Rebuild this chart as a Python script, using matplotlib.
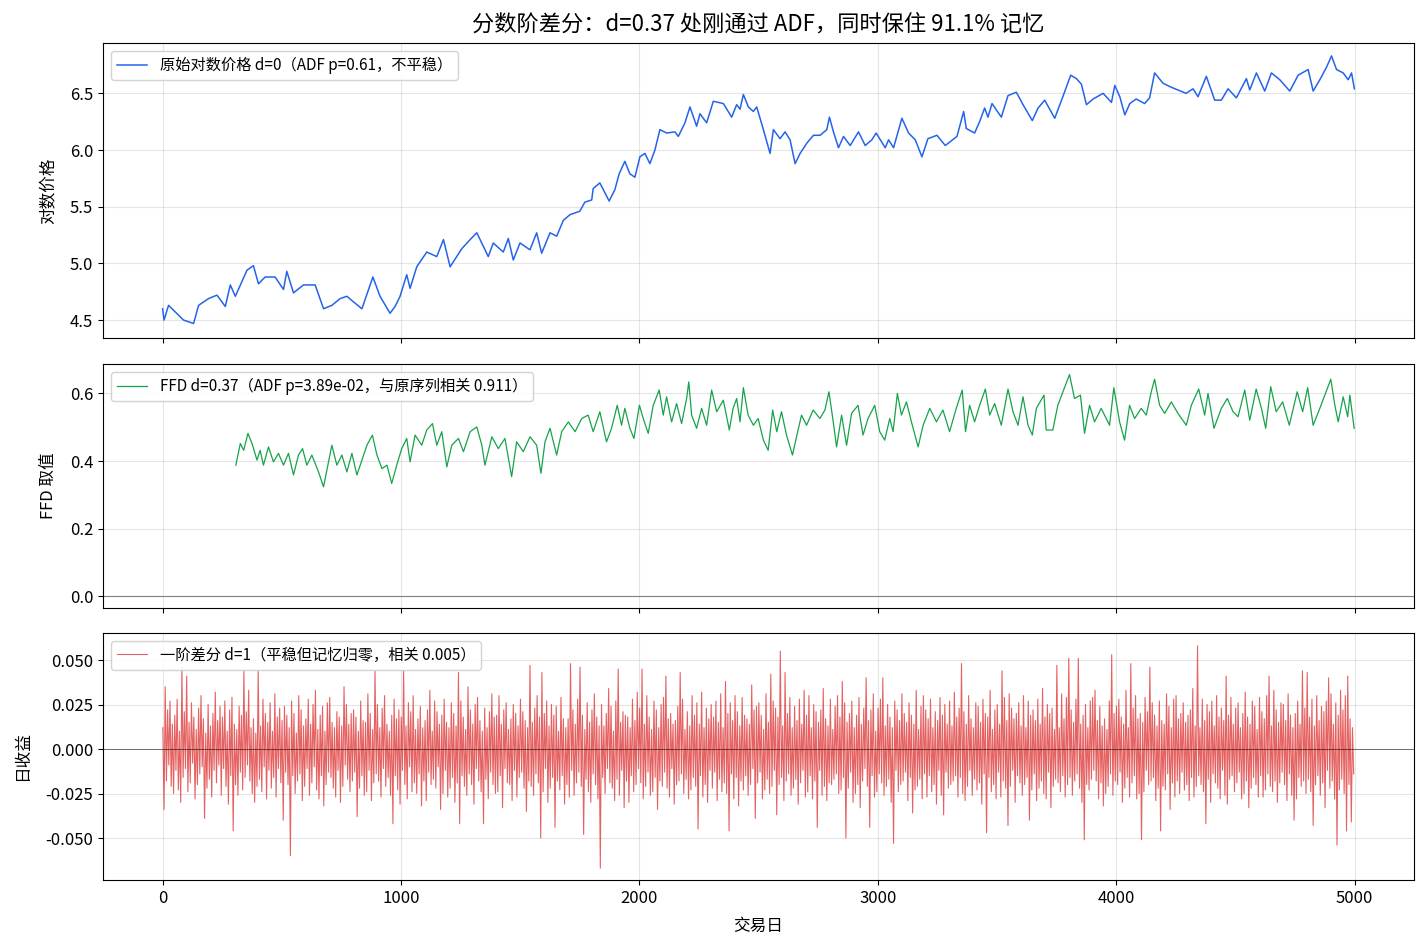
import numpy as np
import matplotlib
matplotlib.use("Agg")
import matplotlib.pyplot as plt

plt.rcParams['font.family'] = ['Noto Sans CJK SC', 'DejaVu Sans']
plt.rcParams['axes.unicode_minus'] = False

# ---------------- data ----------------
title = "分数阶差分：d=0.37 处刚通过 ADF，同时保住 91.1% 记忆"
label_price = "原始对数价格 d=0（ADF p=0.61，不平稳）"
label_ffd = "FFD d=0.37（ADF p=3.89e-02，与原序列相关 0.911）"
label_ret = "一阶差分 d=1（平稳但记忆归零，相关 0.005）"

price_days = [0, 6, 25, 88, 130, 151, 193, 228, 263, 284, 305, 354, 381, 402, 430, 472, 507, 521, 549, 591,
              640, 675, 710, 745, 773, 801, 836, 882, 912, 954, 975, 996, 1024, 1038, 1066, 1108, 1150, 1178,
              1206, 1255, 1290, 1318, 1366, 1387, 1429, 1450, 1471, 1499, 1541, 1569, 1590, 1625, 1653, 1681,
              1709, 1750, 1771, 1800, 1806, 1834, 1873, 1897, 1915, 1939, 1960, 1981, 2002, 2023, 2044, 2065,
              2086, 2114, 2149, 2163, 2191, 2212, 2240, 2254, 2282, 2310, 2352, 2387, 2408, 2422, 2436, 2457,
              2478, 2492, 2520, 2548, 2562, 2590, 2611, 2632, 2653, 2674, 2702, 2730, 2758, 2786, 2797, 2814,
              2835, 2856, 2884, 2919, 2947, 2975, 2993, 3031, 3045, 3066, 3101, 3129, 3157, 3185, 3210, 3248,
              3283, 3332, 3360, 3371, 3406, 3427, 3448, 3462, 3479, 3518, 3546, 3581, 3609, 3648, 3672, 3700,
              3742, 3776, 3809, 3833, 3854, 3875, 3903, 3945, 3980, 3994, 4015, 4036, 4057, 4084, 4119, 4140,
              4161, 4196, 4224, 4259, 4293, 4322, 4343, 4378, 4413, 4441, 4469, 4504, 4546, 4560, 4588, 4623,
              4651, 4686, 4728, 4763, 4805, 4826, 4854, 4882, 4903, 4924, 4952, 4973, 4987, 4999]
price_vals = [4.60, 4.50, 4.63, 4.50, 4.47, 4.63, 4.69, 4.72, 4.62, 4.81, 4.71, 4.94, 4.98, 4.82, 4.88, 4.88,
              4.77, 4.93, 4.74, 4.81, 4.81, 4.60, 4.63, 4.69, 4.71, 4.66, 4.60, 4.88, 4.71, 4.56, 4.62, 4.71,
              4.90, 4.78, 4.97, 5.10, 5.06, 5.21, 4.97, 5.13, 5.21, 5.27, 5.06, 5.18, 5.10, 5.22, 5.03, 5.18,
              5.12, 5.27, 5.09, 5.27, 5.24, 5.38, 5.43, 5.46, 5.54, 5.56, 5.66, 5.71, 5.55, 5.65, 5.79, 5.90,
              5.79, 5.76, 5.94, 5.97, 5.88, 6.00, 6.18, 6.15, 6.16, 6.12, 6.24, 6.38, 6.21, 6.32, 6.24, 6.43,
              6.41, 6.29, 6.40, 6.36, 6.49, 6.38, 6.34, 6.38, 6.18, 5.97, 6.18, 6.10, 6.16, 6.09, 5.88, 5.97,
              6.06, 6.13, 6.13, 6.18, 6.29, 6.16, 6.02, 6.12, 6.04, 6.16, 6.04, 6.09, 6.15, 6.02, 6.09, 6.02,
              6.28, 6.15, 6.09, 5.94, 6.10, 6.13, 6.04, 6.12, 6.34, 6.19, 6.15, 6.25, 6.37, 6.29, 6.41, 6.29,
              6.48, 6.51, 6.40, 6.26, 6.37, 6.44, 6.28, 6.47, 6.66, 6.63, 6.58, 6.40, 6.45, 6.50, 6.42, 6.57,
              6.47, 6.31, 6.41, 6.45, 6.41, 6.46, 6.68, 6.59, 6.56, 6.53, 6.50, 6.54, 6.47, 6.65, 6.44, 6.44,
              6.54, 6.46, 6.63, 6.53, 6.68, 6.52, 6.68, 6.62, 6.52, 6.66, 6.71, 6.52, 6.62, 6.73, 6.83, 6.71,
              6.68, 6.62, 6.68, 6.54]

ffd_days = [307, 326, 340, 358, 375, 396, 409, 423, 444, 465, 486, 507, 528, 549, 570, 587, 605, 626, 654, 675,
            696, 710, 731, 752, 773, 794, 815, 836, 857, 880, 899, 920, 941, 961, 982, 1003, 1024, 1038, 1059,
            1087, 1108, 1132, 1150, 1171, 1192, 1213, 1241, 1262, 1290, 1318, 1339, 1352, 1381, 1408, 1436,
            1464, 1485, 1513, 1541, 1569, 1587, 1604, 1625, 1653, 1674, 1702, 1730, 1758, 1785, 1806, 1834,
            1862, 1883, 1907, 1925, 1939, 1960, 1977, 2000, 2016, 2037, 2058, 2083, 2100, 2114, 2135, 2156,
            2177, 2198, 2207, 2219, 2240, 2261, 2282, 2303, 2324, 2352, 2377, 2393, 2408, 2422, 2436, 2456,
            2478, 2498, 2520, 2540, 2559, 2576, 2596, 2617, 2642, 2659, 2680, 2701, 2729, 2757, 2778, 2795,
            2813, 2827, 2848, 2869, 2890, 2917, 2938, 2959, 2987, 3008, 3029, 3050, 3064, 3082, 3099, 3120,
            3141, 3169, 3190, 3218, 3246, 3273, 3301, 3329, 3354, 3368, 3385, 3406, 3427, 3451, 3469, 3490,
            3518, 3546, 3567, 3588, 3609, 3630, 3648, 3665, 3697, 3706, 3734, 3755, 3783, 3804, 3825, 3850,
            3867, 3888, 3909, 3937, 3972, 3990, 4014, 4035, 4056, 4077, 4105, 4126, 4147, 4161, 4182, 4203,
            4231, 4259, 4294, 4315, 4346, 4371, 4385, 4410, 4441, 4466, 4490, 4511, 4539, 4560, 4587, 4609,
            4627, 4648, 4671, 4698, 4726, 4759, 4782, 4803, 4826, 4854, 4875, 4900, 4917, 4931, 4952, 4971,
            4980, 4990, 4998]
ffd_vals = [0.388, 0.452, 0.432, 0.482, 0.452, 0.403, 0.432, 0.388, 0.442, 0.398, 0.423, 0.388, 0.423, 0.359,
            0.418, 0.437, 0.388, 0.418, 0.368, 0.324, 0.398, 0.447, 0.388, 0.418, 0.368, 0.423, 0.359, 0.403,
            0.447, 0.477, 0.418, 0.378, 0.388, 0.334, 0.388, 0.437, 0.467, 0.398, 0.477, 0.447, 0.492, 0.511,
            0.447, 0.487, 0.383, 0.447, 0.467, 0.428, 0.487, 0.501, 0.447, 0.388, 0.472, 0.437, 0.467, 0.354,
            0.457, 0.428, 0.472, 0.447, 0.364, 0.457, 0.497, 0.418, 0.487, 0.516, 0.487, 0.526, 0.536, 0.487,
            0.546, 0.457, 0.497, 0.565, 0.506, 0.556, 0.497, 0.467, 0.565, 0.526, 0.482, 0.565, 0.610, 0.536,
            0.590, 0.516, 0.570, 0.511, 0.585, 0.634, 0.536, 0.497, 0.556, 0.506, 0.610, 0.546, 0.580, 0.492,
            0.556, 0.585, 0.516, 0.617, 0.536, 0.506, 0.526, 0.462, 0.432, 0.551, 0.487, 0.546, 0.477, 0.418,
            0.472, 0.536, 0.506, 0.551, 0.526, 0.551, 0.605, 0.516, 0.442, 0.536, 0.447, 0.541, 0.565, 0.477,
            0.526, 0.565, 0.487, 0.462, 0.526, 0.487, 0.600, 0.536, 0.575, 0.516, 0.442, 0.506, 0.556, 0.516,
            0.551, 0.487, 0.556, 0.610, 0.487, 0.565, 0.516, 0.565, 0.613, 0.536, 0.570, 0.506, 0.613, 0.546,
            0.506, 0.590, 0.506, 0.477, 0.556, 0.595, 0.492, 0.492, 0.565, 0.617, 0.656, 0.585, 0.595, 0.482,
            0.565, 0.516, 0.556, 0.506, 0.617, 0.516, 0.462, 0.565, 0.526, 0.556, 0.536, 0.605, 0.642, 0.565,
            0.541, 0.575, 0.541, 0.506, 0.565, 0.613, 0.536, 0.600, 0.497, 0.556, 0.585, 0.546, 0.531, 0.610,
            0.521, 0.613, 0.556, 0.497, 0.620, 0.546, 0.575, 0.506, 0.605, 0.546, 0.617, 0.506, 0.556, 0.595,
            0.642, 0.565, 0.516, 0.590, 0.531, 0.595, 0.541, 0.497]

# daily returns (x1000), one reading every 5 trading days, estimated from the chart
ret_start, ret_step = 1, 5
ret_milli = [
    12, -34, 35, -18, 22, -9, 27, -21, 14, -25,
    19, -12, 28, -23, 10, -30, 46, -16, 21, -11,
    41, -24, 15, -19, 26, -8, 18, -28, 11, -20,
    23, -14, 30, -10, 17, -39, 9, -22, 25, -17,
    13, -27, 20, -12, 32, -19, 16, -9, 24, -26,
    18, -11, 27, -21, 10, -31, 22, -15, 29, -46,
    14, -20, 11, -26, 24, -13, 19, -23, 45, -16,
    21, -9, 33, -18, 12, -25, 17, -30, 9, -21,
    44, -17, 13, -24, 28, -10, 20, -28, 15, -12,
    26, -22, 10, -16, 31, -27, 18, -11, 23, -19,
    16, -40, 24, -13, 19, -20, 12, -60, 27, -15,
    20, -25, 9, -18, 30, -14, 22, -29, 13, -21,
    17, -11, 28, -26, 14, -19, 25, -10, 33, -23,
    11, -28, 19, -15, 24, -32, 10, -20, 26, -13,
    29, -16, 15, -22, 12, -27, 21, -12, 18, -30,
    13, -21, 35, -9, 25, -17, 14, -24, 20, -18,
    22, -13, 18, -38, 10, -22, 27, -15, 16, -26,
    15, -24, 31, -12, 20, -29, 11, -19, 44, -14,
    25, -18, 12, -27, 23, -11, 30, -21, 14, -16,
    10, -26, 19, -42, 28, -15, 17, -23, 22, -31,
    18, -12, 44, -20, 13, -28, 26, -10, 21, -24,
    30, -19, 11, -25, 17, -14, 24, -32, 12, -18,
    16, -29, 22, -13, 33, -20, 10, -17, 27, -22,
    21, -10, 14, -34, 19, -25, 28, -12, 15, -27,
    12, -22, 26, -16, 20, -30, 13, -19, 43, -42,
    27, -15, 18, -21, 11, -26, 35, -14, 22, -20,
    14, -31, 25, -11, 29, -18, 16, -24, 10, -42,
    23, -17, 12, -28, 21, -13, 31, -20, 18, -25,
    19, -24, 30, -15, 14, -33, 22, -11, 26, -19,
    11, -20, 17, -29, 25, -12, 20, -27, 13, -16,
    28, -13, 21, -22, 16, -35, 12, -18, 47, -21,
    15, -26, 23, -14, 30, -19, 18, -50, 43, -24,
    20, -11, 27, -30, 13, -22, 25, -16, 19, -44,
    24, -18, 10, -23, 29, -15, 17, -31, 12, -20,
    17, -27, 48, -12, 22, -26, 14, -19, 28, -13,
    46, -21, 19, -48, 11, -17, 26, -24, 15, -30,
    22, -14, 31, -20, 18, -28, 13, -67, 25, -16,
    13, -25, 20, -11, 34, -19, 24, -22, 10, -29,
    27, -17, 45, -26, 15, -12, 21, -33, 19, -18,
    18, -30, 12, -15, 28, -24, 16, -20, 32, -11,
    23, -19, 45, -28, 14, -21, 30, -13, 18, -26,
    11, -24, 27, -16, 22, -34, 12, -18, 25, -21,
    29, -13, 41, -22, 17, -27, 20, -11, 14, -31,
    16, -20, 24, -18, 43, -14, 28, -25, 11, -17,
    21, -28, 13, -23, 30, -16, 19, -21, 26, -45,
    14, -15, 32, -27, 12, -20, 23, -30, 17, -12,
    25, -22, 18, -13, 27, -29, 15, -17, 31, -24,
    12, -19, 38, -25, 20, -46, 26, -14, 16, -28,
    30, -16, 21, -32, 13, -18, 29, -23, 19, -15,
    17, -26, 14, -20, 36, -11, 22, -39, 24, -19,
    26, -13, 19, -28, 11, -23, 31, -17, 15, -25,
    42, -21, 27, -12, 23, -37, 18, -20, 55, -16,
    13, -29, 43, -18, 20, -14, 29, -26, 12, -22,
    24, -17, 16, -31, 28, -19, 14, -12, 33, -27,
    19, -24, 30, -15, 12, -28, 25, -18, 21, -44,
    15, -12, 22, -26, 34, -21, 17, -29, 13, -19,
    28, -20, 11, -17, 24, -14, 30, -25, 18, -23,
    38, -16, 26, -50, 15, -22, 20, -13, 27, -30,
    12, -25, 19, -20, 29, -33, 14, -18, 23, -11,
    40, -21, 16, -44, 22, -15, 31, -27, 10, -24,
    23, -14, 28, -19, 40, -26, 13, -21, 25, -17,
    18, -30, 12, -53, 27, -12, 22, -24, 16, -20,
    31, -18, 20, -13, 15, -29, 26, -16, 19, -36,
    14, -23, 33, -21, 11, -17, 24, -28, 30, -14,
    22, -27, 17, -15, 28, -24, 12, -20, 21, -31,
    16, -12, 29, -26, 19, -37, 25, -13, 14, -22,
    27, -20, 13, -18, 32, -15, 18, -27, 23, -16,
    48, -25, 21, -29, 14, -21, 30, -12, 17, -26,
    12, -17, 26, -23, 24, -19, 15, -31, 28, -14,
    20, -47, 18, -16, 33, -24, 11, -20, 22, -28,
    25, -13, 14, -27, 44, -18, 29, -22, 16, -43,
    31, -21, 23, -12, 17, -30, 20, -15, 26, -19,
    13, -26, 30, -20, 12, -16, 27, -40, 19, -23,
    22, -14, 16, -29, 28, -22, 14, -18, 34, -25,
    18, -28, 25, -13, 20, -33, 23, -21, 11, -17,
    47, -19, 12, -24, 31, -15, 17, -27, 29, -20,
    51, -16, 22, -26, 15, -18, 28, -14, 51, -22,
    14, -30, 19, -51, 25, -20, 12, -23, 27, -17,
    29, -12, 33, -18, 16, -28, 24, -19, 13, -32,
    17, -25, 11, -21, 27, -14, 53, -26, 20, -18,
    24, -20, 28, -13, 18, -30, 14, -22, 33, -16,
    12, -27, 48, -19, 23, -15, 30, -28, 17, -25,
    20, -51, 15, -24, 29, -12, 21, -20, 46, -18,
    26, -16, 19, -29, 13, -22, 27, -46, 16, -21,
    14, -23, 31, -14, 24, -34, 12, -19, 28, -27,
    30, -18, 17, -25, 20, -13, 26, -23, 15, -20,
    19, -29, 22, -16, 34, -27, 13, -21, 58, -15,
    12, -20, 28, -24, 16, -42, 25, -17, 21, -30,
    27, -14, 13, -19, 30, -22, 18, -28, 23, -12,
    16, -26, 41, -31, 19, -17, 29, -15, 14, -24,
    23, -19, 26, -13, 12, -28, 20, -25, 32, -18,
    18, -33, 14, -22, 27, -16, 24, -20, 11, -27,
    29, -15, 21, -27, 17, -23, 30, -14, 41, -21,
    13, -24, 33, -18, 22, -30, 15, -19, 26, -13,
    25, -20, 16, -29, 31, -14, 19, -26, 12, -40,
    20, -28, 27, -16, 14, -21, 44, -18, 23, -25,
    43, -17, 18, -24, 28, -43, 13, -20, 30, -15,
    16, -26, 24, -19, 21, -33, 27, -12, 40, -22,
    31, -18, 14, -28, 26, -54, 19, -23, 33, -17,
    22, -25, 30, -46, 41, -20, 17, -41, 12, -14,
]

xticks = [0, 1000, 2000, 3000, 4000, 5000]
price_ticks = [4.5, 5.0, 5.5, 6.0, 6.5]
ffd_ticks = [0.0, 0.2, 0.4, 0.6]
ret_ticks = [-0.050, -0.025, 0.000, 0.025, 0.050]

# ---------------- figure ----------------
W, H = 1427, 948
fig = plt.figure(figsize=(W / 100, H / 100), dpi=100)

def rect(l, t, r, b):
    return [l / W, 1 - b / H, (r - l) / W, (b - t) / H]

ax1 = fig.add_axes(rect(103, 43, 1414, 338))
ax2 = fig.add_axes(rect(103, 364, 1414, 608), sharex=ax1)
ax3 = fig.add_axes(rect(103, 633, 1414, 880), sharex=ax1)

blue = '#2563eb'
green = '#16a34a'
red = '#dc2626'

ax1.plot(price_days, price_vals, color=blue, lw=1.1, label=label_price)
ax2.plot(ffd_days, ffd_vals, color=green, lw=0.9, label=label_ffd)
ax2.axhline(0, color='gray', lw=0.8)

ret_days = np.arange(len(ret_milli)) * ret_step + ret_start
ret_vals = np.array(ret_milli) / 1000.0
ax3.plot(ret_days, ret_vals, color=red, lw=0.8, alpha=0.72, label=label_ret)
ax3.axhline(0, color='black', lw=0.6, alpha=0.6)

for ax in (ax1, ax2, ax3):
    ax.grid(True, color='#cccccc', alpha=0.5, lw=0.8)
    ax.set_axisbelow(True)
    ax.tick_params(labelsize=12)
    ax.legend(loc='upper left', fontsize=11, framealpha=0.85, handlelength=2.0)

ax1.set_xlim(-250, 5249)
ax1.set_xticks(xticks)
ax1.set_ylim(4.342, 6.944)
ax1.set_yticks(price_ticks)
ax2.set_ylim(-0.034, 0.687)
ax2.set_yticks(ffd_ticks)
ax3.set_ylim(-0.0736, 0.0652)
ax3.set_yticks(ret_ticks)
ax3.set_yticklabels([f"{v:.3f}" for v in ret_ticks])
plt.setp(ax1.get_xticklabels(), visible=False)
plt.setp(ax2.get_xticklabels(), visible=False)

ax1.set_ylabel("对数价格", fontsize=12, labelpad=9)
ax2.set_ylabel("FFD 取值", fontsize=12, labelpad=9)
ax3.set_ylabel("日收益", fontsize=12, labelpad=10)
ax3.set_xlabel("交易日", fontsize=12, labelpad=8)
ax1.set_title(title, fontsize=16, pad=9)

fig.savefig("out.png", dpi=100)
